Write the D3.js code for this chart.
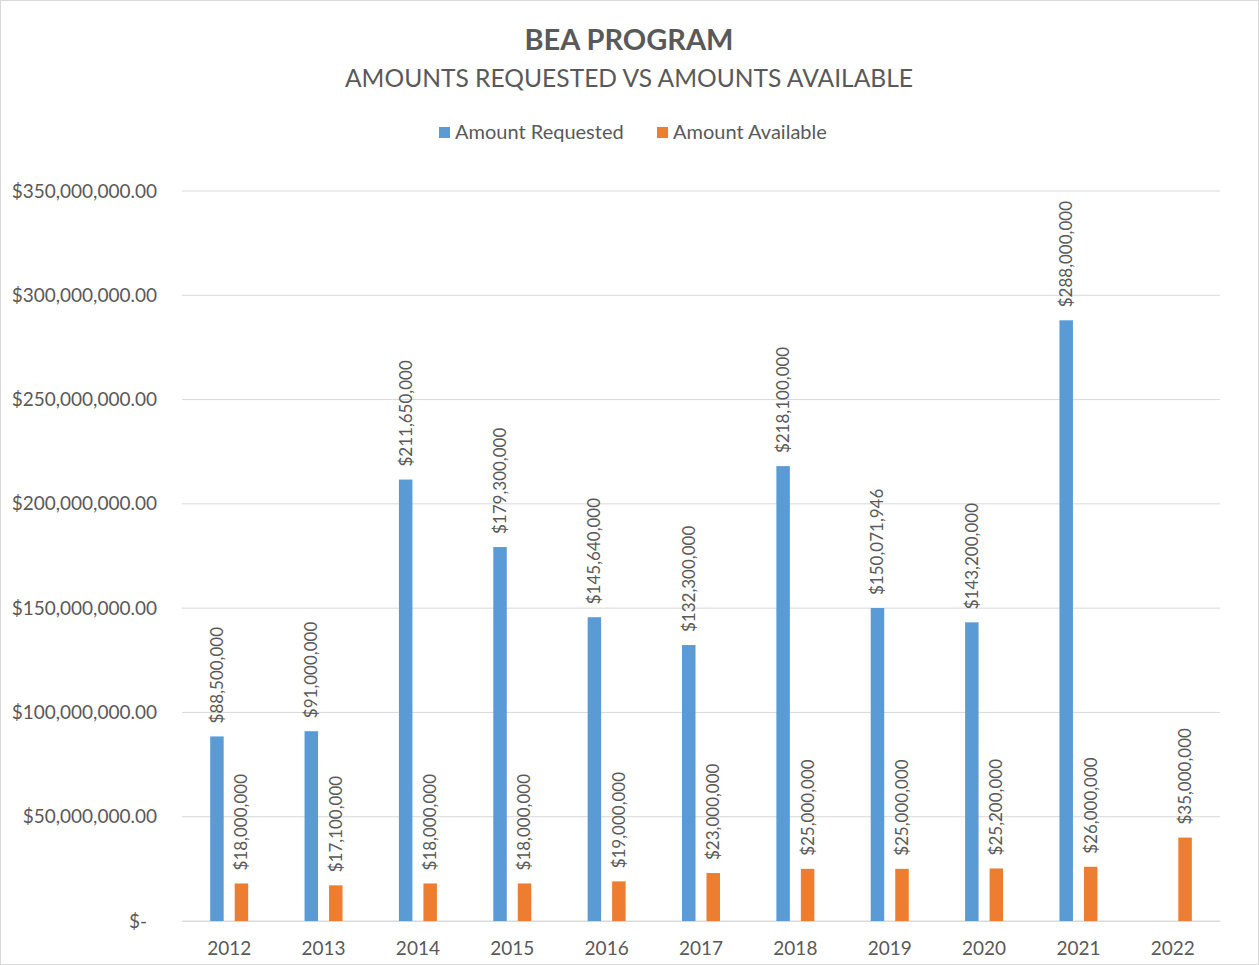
<!DOCTYPE html>
<html>
<head>
<meta charset="utf-8">
<script src="https://cdn.jsdelivr.net/npm/d3@7"></script>
<style>
  body { margin: 0; background: #fff; }
  svg text { font-family: Lato, "Open Sans", sans-serif; fill: #595959; }
</style>
</head>
<body>
<svg id="chart" width="1259" height="965"></svg>
<script>
// chart data
const years = ["2012", "2013", "2014", "2015", "2016", "2017", "2018", "2019", "2020", "2021", "2022"];
const amountRequested = [88500000, 91000000, 211650000, 179300000, 145640000, 132300000, 218100000, 150071946, 143200000, 288000000, null];
const amountAvailable = [18000000, 17100000, 18000000, 18000000, 19000000, 23000000, 25000000, 25000000, 25200000, 26000000, 40000000];
const requestedLabels = ["$88,500,000", "$91,000,000", "$211,650,000", "$179,300,000", "$145,640,000", "$132,300,000", "$218,100,000", "$150,071,946", "$143,200,000", "$288,000,000", null];
const availableLabels = ["$18,000,000", "$17,100,000", "$18,000,000", "$18,000,000", "$19,000,000", "$23,000,000", "$25,000,000", "$25,000,000", "$25,200,000", "$26,000,000", "$35,000,000"];
const yTicks = [0, 50000000, 100000000, 150000000, 200000000, 250000000, 300000000, 350000000];
const seriesNames = ["Amount Requested", "Amount Available"];
const colors = ["#5B9BD5", "#ED7D31"];

const svg = d3.select("#chart");
const W = 1259, H = 965;
const margin = { top: 191, right: 39, bottom: 44, left: 182 };
const width = W - margin.left - margin.right;
const height = H - margin.top - margin.bottom;

// outer border
svg.append("rect")
    .attr("x", 0.5).attr("y", 0.5)
    .attr("width", W - 1).attr("height", H - 1)
    .attr("fill", "#fff")
    .attr("stroke", "#d9d9d9");

// titles
svg.append("text")
    .attr("x", 629).attr("y", 50)
    .attr("text-anchor", "middle")
    .style("font-size", "29px").style("font-weight", "bold")
    .text("BEA PROGRAM");
svg.append("text")
    .attr("x", 629).attr("y", 87)
    .attr("text-anchor", "middle")
    .style("font-size", "24.6px")
    .text("AMOUNTS REQUESTED VS AMOUNTS AVAILABLE");

// legend
const legend = svg.append("g").attr("transform", "translate(439,133)");
const legendX = [0, 218];
seriesNames.forEach((name, i) => {
    const g = legend.append("g").attr("transform", "translate(" + legendX[i] + ",0)");
    g.append("rect").attr("x", 0).attr("y", -6).attr("width", 11).attr("height", 11).attr("fill", colors[i]);
    g.append("text").attr("x", 16).attr("y", 6).style("font-size", "20px").text(name);
});

const plot = svg.append("g")
    .attr("transform", "translate(" + margin.left + "," + margin.top + ")");

const x = d3.scaleBand().domain(years).range([0, width]);
const pairWidth = 38;
const x1 = d3.scaleBand().domain([0, 1]).range([0, pairWidth]).paddingInner(0.449);
const offset = (x.bandwidth() - pairWidth) / 2;

const y = d3.scaleLinear().domain([0, 350000000]).range([height, 0]);

// gridlines
plot.append("g")
    .selectAll("line")
    .data(yTicks)
    .join("line")
    .attr("x1", 0).attr("x2", width)
    .attr("y1", d => y(d)).attr("y2", d => y(d))
    .attr("stroke", "#d9d9d9")
    .attr("stroke-width", 1);

// y axis labels
const fmt = d3.format("$,.2f");
const yAxis = plot.append("g")
    .call(d3.axisLeft(y).tickValues(yTicks).tickSize(0).tickPadding(25)
        .tickFormat(d => d === 0 ? "$-" : fmt(d)));
yAxis.select(".domain").remove();
yAxis.selectAll("text")
    .style("font-size", "19px")
    .style("font-family", "Lato, 'Open Sans', sans-serif")
    .attr("fill", "#595959")
    .attr("dx", d => d === 0 ? -10 : 0);

// x axis labels
const xAxis = plot.append("g")
    .attr("transform", "translate(0," + height + ")")
    .call(d3.axisBottom(x).tickSize(0).tickPadding(21));
xAxis.select(".domain").attr("stroke", "#d9d9d9");
xAxis.selectAll("text")
    .style("font-size", "19px")
    .style("font-family", "Lato, 'Open Sans', sans-serif")
    .attr("fill", "#595959");

// bars
const series = [
    { values: amountRequested, labels: requestedLabels },
    { values: amountAvailable, labels: availableLabels }
];

series.forEach((s, si) => {
    const rows = years.map((yr, i) => ({ year: yr, value: s.values[i], label: s.labels[i] }))
        .filter(d => d.value !== null);

    plot.append("g")
        .selectAll("rect")
        .data(rows)
        .join("rect")
        .attr("x", d => x(d.year) + offset + x1(si))
        .attr("y", d => y(d.value))
        .attr("width", x1.bandwidth())
        .attr("height", d => height - y(d.value))
        .attr("fill", colors[si]);

    plot.append("g")
        .selectAll("text")
        .data(rows)
        .join("text")
        .attr("transform", d => "translate(" + (x(d.year) + offset + x1(si) + x1.bandwidth() / 2) + "," + (y(d.value) - 13) + ") rotate(-90)")
        .attr("dy", "0.35em")
        .style("font-size", "17px")
        .text(d => d.label);
});
</script>
</body>
</html>
